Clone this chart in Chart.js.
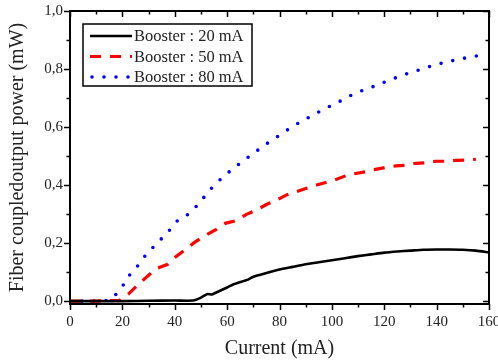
<!DOCTYPE html>
<html>
<head>
<meta charset="utf-8">
<script src="https://cdn.jsdelivr.net/npm/chart.js@4"></script>
<style>
html,body{margin:0;padding:0;background:#fff;}
canvas{display:block;}
</style>
</head>
<body>
<canvas id="c" width="498" height="362"></canvas>
<script>
// ---- data ----
const current20 = [0, 10, 20, 30, 40, 47, 50, 52.3, 54.2, 55, 60, 62.5, 68, 70, 75, 80, 85, 90, 95, 100, 105, 110, 115, 120, 125, 130, 135, 140, 145, 150, 155, 160];
const power20   = [0, 0, 0, 0.001, 0.002, 0.002, 0.012, 0.024, 0.023, 0.026, 0.047, 0.058, 0.074, 0.084, 0.097, 0.109, 0.118, 0.127, 0.134, 0.141, 0.148, 0.155, 0.161, 0.167, 0.171, 0.174, 0.177, 0.178, 0.178, 0.177, 0.174, 0.168];

const current50 = [0, 10, 19, 22.3, 25.8, 29.6, 33.2, 37.3, 40.4, 44.4, 47.8, 52, 55.9, 59.3, 63.2, 67.4, 71.2, 75, 78.9, 82.7, 86.5, 90.3, 94.2, 98, 101.8, 105.3, 109.1, 112.9, 116.7, 120.6, 124.4, 128.2, 132, 135.9, 139.7, 143.5, 147.4, 151.2, 155];
const power50   = [0, 0, 0.003, 0.024, 0.055, 0.086, 0.113, 0.127, 0.153, 0.18, 0.204, 0.228, 0.247, 0.268, 0.277, 0.299, 0.314, 0.333, 0.348, 0.366, 0.377, 0.389, 0.4, 0.41, 0.42, 0.432, 0.44, 0.446, 0.454, 0.461, 0.466, 0.468, 0.475, 0.477, 0.482, 0.482, 0.485, 0.486, 0.489];

const current80 = [0, 10, 15, 17.5, 20.4, 23, 25.9, 29.1, 33.2, 37.4, 41, 45.3, 49.5, 52.7, 56.9, 61.6, 66.2, 70.9, 75.5, 80.1, 84.6, 89.3, 93.9, 98.4, 103.1, 107.7, 112.2, 116.6, 121.2, 125.9, 130.4, 134.8, 139.6, 144.2, 148.6, 153.4, 158];
const power80   = [0, 0, 0.003, 0.023, 0.056, 0.093, 0.122, 0.161, 0.199, 0.238, 0.277, 0.3, 0.338, 0.377, 0.415, 0.452, 0.484, 0.515, 0.545, 0.572, 0.6, 0.624, 0.647, 0.668, 0.689, 0.711, 0.728, 0.742, 0.759, 0.775, 0.789, 0.801, 0.815, 0.825, 0.834, 0.842, 0.849];

const seriesLabels = ['Booster : 20 mA', 'Booster : 50 mA', 'Booster : 80 mA'];
const xTicks = [0, 20, 40, 60, 80, 100, 120, 140, 160];
const yTicks = [0, 0.2, 0.4, 0.6, 0.8, 1.0];
const xTitle = 'Current (mA)';
const yTitle = 'Fiber coupledoutput power (mW)';

const FONT = "'Liberation Serif', 'DejaVu Serif', serif";
const TXT = '#222';

function pts(xs, ys){ return xs.map((x,i)=>({x:x, y:ys[i]})); }

const framePlugin = {
  id: 'frame',
  afterDatasetsDraw(chart){
    const {ctx, chartArea:a, scales:{x, y}} = chart;
    ctx.save();
    ctx.strokeStyle = '#000';
    ctx.lineWidth = 2;
    ctx.strokeRect(a.left, a.top, a.right - a.left, a.bottom - a.top);
    ctx.lineWidth = 1.5;
    ctx.beginPath();
    for (let v = 0; v <= 160.001; v += 10) {
      const px = Math.round(x.getPixelForValue(v)) + 0.5;
      const major = Math.abs(v % 20) < 1e-6;
      const L = major ? 6 : 3.5;
      ctx.moveTo(px, a.bottom); ctx.lineTo(px, a.bottom + L);
      ctx.moveTo(px, a.top); ctx.lineTo(px, a.top + L);
    }
    for (let i = 0; i <= 10; i++) {
      const v = i / 10;
      const py = Math.round(y.getPixelForValue(v)) + 0.5;
      const major = i % 2 === 0;
      const L = major ? 6 : 3.5;
      ctx.moveTo(a.left, py); ctx.lineTo(a.left - L, py);
      ctx.moveTo(a.right, py); ctx.lineTo(a.right - L, py);
    }
    ctx.stroke();

    // legend
    const bx = 83, by = 24, bw = 169, bh = 62;
    ctx.fillStyle = '#fff';
    ctx.fillRect(bx, by, bw, bh);
    ctx.lineWidth = 1.5;
    ctx.strokeStyle = '#000';
    ctx.strokeRect(bx, by, bw, bh);
    const rows = [36, 56.5, 77];
    chart.data.datasets.forEach((ds, i) => {
      ctx.save();
      ctx.strokeStyle = ds.borderColor;
      ctx.lineWidth = ds.borderWidth;
      ctx.lineCap = ds.borderCapStyle || 'butt';
      ctx.setLineDash(ds.borderDash || []);
      ctx.beginPath();
      ctx.moveTo(i === 2 ? 92 : 90, rows[i]);
      ctx.lineTo(132, rows[i]);
      ctx.stroke();
      ctx.restore();
      ctx.fillStyle = TXT;
      ctx.font = '16.5px ' + FONT;
      ctx.textBaseline = 'middle';
      ctx.textAlign = 'left';
      ctx.fillText(ds.label, 134, rows[i] + 1);
    });
    ctx.restore();
  }
};

new Chart(document.getElementById('c'), {
  type: 'line',
  data: {
    datasets: [
      { label: seriesLabels[0], data: pts(current20, power20), borderColor: '#000000', borderWidth: 2.6, pointRadius: 0, tension: 0.2 },
      { label: seriesLabels[1], data: pts(current50, power50), borderColor: '#ff0000', borderWidth: 3.2, borderDash: [11, 9], pointRadius: 0 },
      { label: seriesLabels[2], data: pts(current80, power80), borderColor: '#0000ff', borderWidth: 3.6, borderDash: [0, 12], borderCapStyle: 'round', pointRadius: 0 }
    ]
  },
  options: {
    responsive: false,
    animation: false,
    layout: { padding: { top: 11, right: 9, left: 0, bottom: 0 } },
    plugins: { legend: { display: false }, tooltip: { enabled: false } },
    scales: {
      x: {
        type: 'linear', min: 0, max: 160,
        grid: { display: false, drawTicks: false }, border: { display: false },
        afterBuildTicks: s => { s.ticks = xTicks.map(v => ({value: v})); },
        afterFit: s => { s.height = 58; s.paddingLeft = 0; s.paddingRight = 0; },
        ticks: { color: TXT, font: { family: FONT, size: 15 }, padding: 9, maxRotation: 0, autoSkip: false },
        title: { display: true, text: xTitle, color: TXT, font: { family: FONT, size: 20 }, padding: { top: 0, bottom: 1 } }
      },
      y: {
        type: 'linear', min: -0.01, max: 1.0,
        grid: { display: false, drawTicks: false }, border: { display: false },
        afterBuildTicks: s => { s.ticks = yTicks.map(v => ({value: v})); },
        afterFit: s => { s.width = 70; s.paddingTop = 0; s.paddingBottom = 0; },
        ticks: { color: TXT, font: { family: FONT, size: 15 }, padding: 7,
                 callback: v => v.toFixed(1).replace('.', ',') },
        title: { display: true, text: yTitle, color: TXT, font: { family: FONT, size: 20 }, padding: { top: 6, bottom: 0 } }
      }
    }
  },
  plugins: [framePlugin]
});
</script>
</body>
</html>
